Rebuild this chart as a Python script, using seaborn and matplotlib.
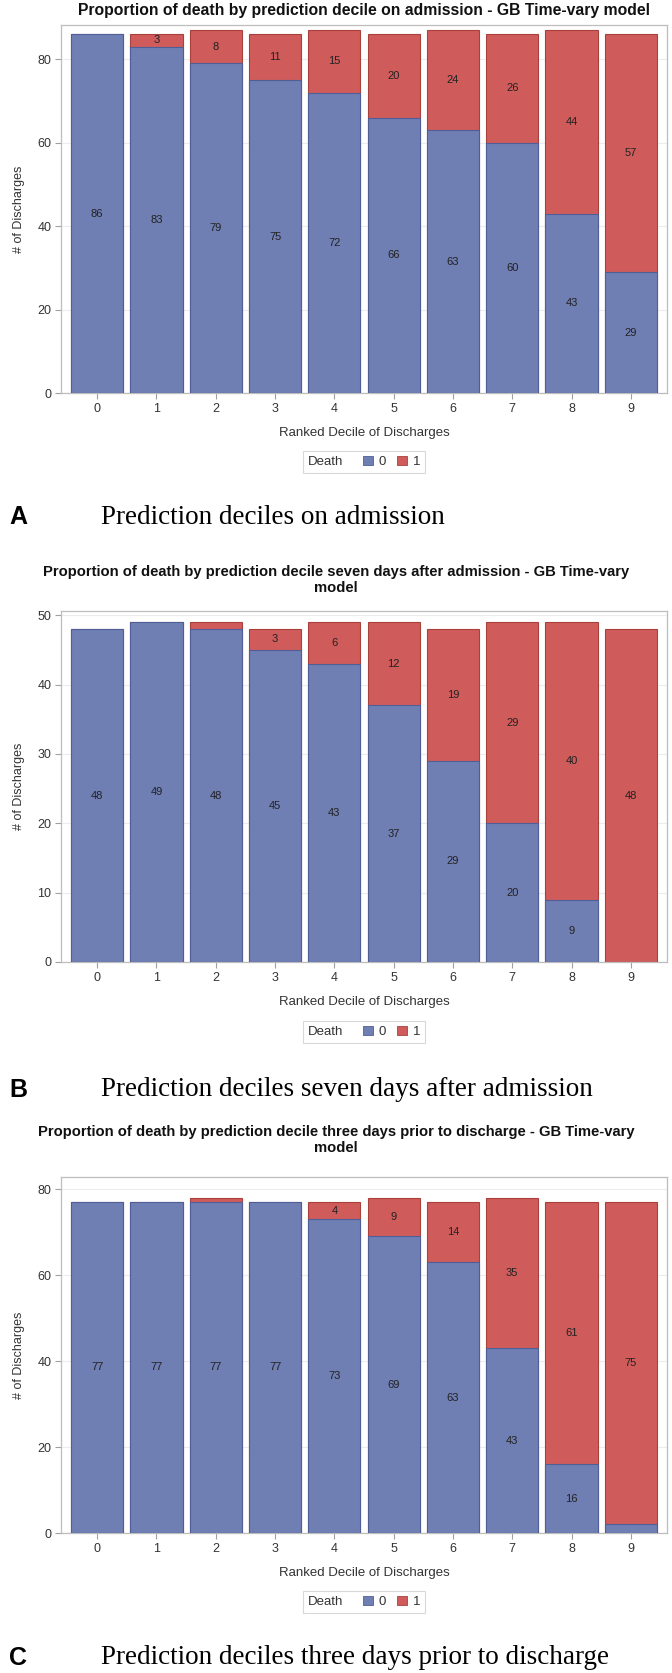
import numpy as np
import pandas as pd
import matplotlib.pyplot as plt
import seaborn as sns
from matplotlib.patches import Rectangle
from matplotlib.offsetbox import HPacker

# Data (counts of discharges per ranked decile)
deciles = list(range(10))

alive_admission = [86, 83, 79, 75, 72, 66, 63, 60, 43, 29]
death_admission = [0, 3, 8, 11, 15, 20, 24, 26, 44, 57]

alive_day7 = [48, 49, 48, 45, 43, 37, 29, 20, 9, 0]
death_day7 = [0, 0, 1, 3, 6, 12, 19, 29, 40, 48]

alive_discharge = [77, 77, 77, 77, 73, 69, 63, 43, 16, 2]
death_discharge = [0, 0, 1, 0, 4, 9, 14, 35, 61, 75]

titles = [
    'Proportion of death by prediction decile on admission - GB Time-vary model',
    'Proportion of death by prediction decile seven days after admission - GB Time-vary\nmodel',
    'Proportion of death by prediction decile three days prior to discharge - GB Time-vary\nmodel',
]
letters = ['A', 'B', 'C']
captions = [
    'Prediction deciles on admission',
    'Prediction deciles seven days after admission',
    'Prediction deciles three days prior to discharge',
]

BLUE = '#6F7EB3'
RED = '#D05B5B'
BLUE_EDGE = '#4F5E96'
RED_EDGE = '#A8403C'

W, H = 672, 1673

sns.set_style('white')
plt.rcParams['font.family'] = ['Liberation Sans', 'DejaVu Sans']

fig = plt.figure(figsize=(W / 100, H / 100), dpi=100)


def px_axes(top, bottom, left=61, right=667):
    return fig.add_axes([left / W, 1 - bottom / H, (right - left) / W, (bottom - top) / H])


def draw_panel(ax, alive, death, ymax, yticks):
    df = pd.DataFrame({'decile': deciles, 'alive': alive, 'death': death})
    df['total'] = df['alive'] + df['death']

    # stacked bars: full height in red, survivors drawn over in blue
    sns.barplot(x='decile', y='total', data=df, color=RED, saturation=1, width=0.88,
                edgecolor=RED_EDGE, linewidth=0.8, ax=ax, zorder=2)
    sns.barplot(x='decile', y='alive', data=df, color=BLUE, saturation=1, width=0.88,
                edgecolor=BLUE_EDGE, linewidth=0.8, ax=ax, zorder=3)

    for i, row in df.iterrows():
        if row['alive'] >= 3:
            ax.text(i, row['alive'] / 2, str(row['alive']), ha='center', va='center',
                    fontsize=8, color='#222222', zorder=5)
        if row['death'] >= 3:
            ax.text(i, row['alive'] + row['death'] / 2, str(row['death']), ha='center',
                    va='center', fontsize=8, color='#222222', zorder=5)

    ax.set_xlim(-0.61, 9.61)
    ax.set_ylim(0, ymax)
    ax.set_yticks(yticks)
    ax.yaxis.grid(True, color='#ECECEC', linewidth=0.8, zorder=0)
    ax.set_axisbelow(True)
    for sp in ax.spines.values():
        sp.set_color('#BDBDBD')
        sp.set_linewidth(0.9)
    ax.tick_params(axis='both', which='both', length=4, width=0.8, color='#A0A0A0',
                   labelsize=9, labelcolor='#333333', pad=3, direction='out')
    ax.tick_params(left=True, bottom=True)
    ax.set_xlabel('Ranked Decile of Discharges', fontsize=9.5, color='#333333', labelpad=9)
    ax.set_ylabel('# of Discharges', fontsize=9, color='#333333', labelpad=9)


def death_legend(y):
    handles = [Rectangle((0, 0), 1, 1, facecolor=BLUE, edgecolor=BLUE_EDGE, linewidth=0.6),
               Rectangle((0, 0), 1, 1, facecolor=RED, edgecolor=RED_EDGE, linewidth=0.6)]
    leg = fig.legend(handles, ['0', '1'], title='Death', loc='center', ncol=2,
                     bbox_to_anchor=(364 / W, 1 - y / H), fontsize=9.5,
                     title_fontsize=9.5, frameon=True, fancybox=False,
                     handlelength=0.75, handleheight=0.75, handletextpad=0.45,
                     columnspacing=0.8, borderpad=0.4)
    # SAS puts the legend title on the same row as the entries
    leg._legend_box.__class__ = HPacker
    leg._legend_box.sep = 14
    leg.get_frame().set_edgecolor('#CFCFCF')
    leg.get_frame().set_linewidth(0.8)
    leg.get_title().set_color('#333333')
    for t in leg.get_texts():
        t.set_color('#333333')
    return leg


panels = [
    (alive_admission, death_admission, 88.2, [0, 20, 40, 60, 80], 25, 393),
    (alive_day7, death_day7, 50.6, [0, 10, 20, 30, 40, 50], 611, 962),
    (alive_discharge, death_discharge, 82.8, [0, 20, 40, 60, 80], 1177, 1533),
]
title_x = [364, 336, 336]
title_y = [11, 580, 1140]
title_size = [11.3, 10.6, 10.6]
legend_y = [462, 1032, 1602]
caption_y = [517, 1090, 1658]

for k, (alive, death, ymax, yticks, top, bottom) in enumerate(panels):
    ax = px_axes(top, bottom)
    draw_panel(ax, alive, death, ymax, yticks)

    fig.text(title_x[k] / W, 1 - title_y[k] / H, titles[k], ha='center', va='center',
             fontsize=title_size[k], fontweight='bold', color='#111111', linespacing=1.1,
             multialignment='center')

    death_legend(legend_y[k])

    fig.text(9 / W, 1 - caption_y[k] / H, letters[k], ha='left', va='center',
             fontsize=18, fontweight='bold', color='black')
    fig.text(101 / W, 1 - caption_y[k] / H, captions[k], ha='left', va='center',
             fontsize=19.5, color='black', family=['Liberation Serif', 'DejaVu Serif'])

fig.savefig('out.png', dpi=100)
